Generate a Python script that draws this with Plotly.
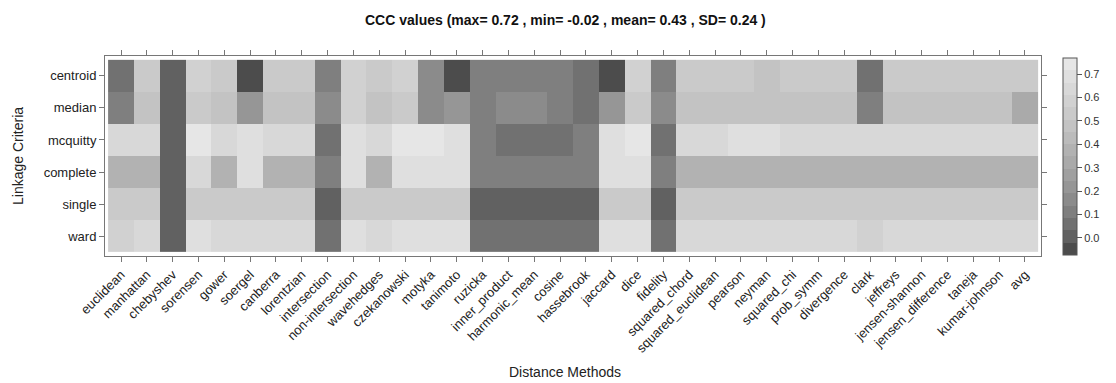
import plotly.graph_objects as go

methods = ["euclidean", "manhattan", "chebyshev", "sorensen", "gower", "soergel",
           "canberra", "lorentzian", "intersection", "non-intersection", "wavehedges",
           "czekanowski", "motyka", "tanimoto", "ruzicka", "inner_product",
           "harmonic_mean", "cosine", "hassebrook", "jaccard", "dice", "fidelity",
           "squared_chord", "squared_euclidean", "pearson", "neyman", "squared_chi",
           "prob_symm", "divergence", "clark", "jeffreys", "jensen-shannon",
           "jensen_difference", "taneja", "kumar-johnson", "avg"]

linkage = ["centroid", "median", "mcquitty", "complete", "single", "ward"]

centroid = [0.06, 0.54, 0.01, 0.59, 0.54, -0.02, 0.54, 0.54, 0.11, 0.59, 0.54, 0.59,
            0.17, -0.02, 0.11, 0.11, 0.11, 0.11, 0.06, -0.02, 0.59, 0.11,
            0.54, 0.54, 0.54, 0.48, 0.54, 0.54, 0.54, 0.06, 0.54, 0.54, 0.54, 0.54, 0.54, 0.54]
median = [0.11, 0.48, 0.01, 0.54, 0.48, 0.21, 0.48, 0.48, 0.17, 0.59, 0.48, 0.54,
          0.17, 0.21, 0.11, 0.17, 0.17, 0.11, 0.06, 0.21, 0.54, 0.17,
          0.48, 0.48, 0.48, 0.48, 0.48, 0.48, 0.48, 0.11, 0.48, 0.48, 0.48, 0.48, 0.48, 0.32]
mcquitty = [0.64, 0.64, 0.01, 0.72, 0.64, 0.69, 0.64, 0.64, 0.06, 0.69, 0.64, 0.72,
            0.72, 0.69, 0.11, 0.06, 0.06, 0.06, 0.11, 0.69, 0.72, 0.06,
            0.64, 0.64, 0.69, 0.69, 0.64, 0.64, 0.64, 0.64, 0.64, 0.64, 0.64, 0.64, 0.64, 0.64]
complete = [0.38, 0.38, 0.01, 0.64, 0.38, 0.69, 0.38, 0.38, 0.11, 0.69, 0.38, 0.69,
            0.69, 0.69, 0.11, 0.11, 0.11, 0.11, 0.11, 0.69, 0.69, 0.11,
            0.38, 0.38, 0.38, 0.38, 0.38, 0.38, 0.38, 0.38, 0.38, 0.38, 0.38, 0.38, 0.38, 0.38]
single = [0.54, 0.54, 0.01, 0.54, 0.54, 0.54, 0.54, 0.54, 0.01, 0.54, 0.54, 0.54,
          0.54, 0.54, 0.01, 0.01, 0.01, 0.01, 0.01, 0.54, 0.54, 0.01,
          0.54, 0.54, 0.54, 0.54, 0.54, 0.54, 0.54, 0.54, 0.54, 0.54, 0.54, 0.54, 0.54, 0.54]
ward = [0.59, 0.64, 0.01, 0.69, 0.64, 0.64, 0.64, 0.64, 0.06, 0.69, 0.64, 0.69,
        0.69, 0.69, 0.06, 0.06, 0.06, 0.06, 0.06, 0.69, 0.69, 0.06,
        0.64, 0.64, 0.64, 0.64, 0.64, 0.64, 0.64, 0.59, 0.64, 0.64, 0.64, 0.64, 0.64, 0.64]

colorbar_ticks = [0.0, 0.1, 0.2, 0.3, 0.4, 0.5, 0.6, 0.7]

z = [centroid, median, mcquitty, complete, single, ward]

flat = [v for row in z for v in row]
zmin_d, zmax_d = min(flat), max(flat)
ext = 0.07 * (zmax_d - zmin_d)
lo, hi = zmin_d - ext, zmax_d + ext

# lattice-like stepped grey palette (gray.colors, 16 levels)
n = 16
g0, g1 = 0.3 ** 2.2, 0.9 ** 2.2
scale = []
for k in range(n):
    lvl = (g0 + k / (n - 1) * (g1 - g0)) ** (1 / 2.2)
    c = round(lvl * 255)
    col = f"rgb({c},{c},{c})"
    scale.append([k / n, col])
    scale.append([(k + 1) / n, col])

font = "Liberation Sans, Arial, sans-serif"

fig = go.Figure(go.Heatmap(
    x=methods, y=linkage, z=z,
    zmin=lo, zmax=hi, colorscale=scale,
    xgap=0, ygap=0,
    colorbar=dict(
        x=1.0235, xanchor="left", xpad=0,
        y=0.5, yanchor="middle", ypad=0,
        thickness=14, lenmode="pixels", len=197,
        outlinewidth=1, outlinecolor="#555",
        ticks="outside", ticklen=5, tickcolor="#555",
        tickvals=colorbar_ticks, tickformat=".1f",
        tickfont=dict(family=font, size=11, color="#333"),
    ),
))

axis_common = dict(
    showline=True, linecolor="#777", linewidth=1, mirror="ticks",
    ticks="outside", ticklen=5, tickcolor="#777", showgrid=False, zeroline=False,
    tickfont=dict(family=font, size=13, color="#222"),
)

fig.update_xaxes(type="category", range=[-0.62, len(methods) - 0.38], tickangle=-45,
                 **axis_common)
fig.update_yaxes(type="category", range=[len(linkage) - 0.38, -0.62], **axis_common)

fig.update_layout(
    width=1116, height=383,
    margin=dict(l=105, r=75, t=56, b=127),
    paper_bgcolor="white", plot_bgcolor="white",
    font=dict(family=font, color="#222"),
    annotations=[
        dict(text="<b>CCC values (max= 0.72 , min= -0.02 , mean= 0.43 , SD= 0.24 )</b>",
             xref="paper", yref="paper", x=(565 - 105) / 936, y=1 + (56 - 20) / 200,
             xanchor="center", yanchor="middle", showarrow=False,
             font=dict(family=font, size=14, color="#111")),
        dict(text="Distance Methods", xref="paper", yref="paper",
             x=(565 - 105) / 936, y=-(372 - 256) / 200, xanchor="center", yanchor="middle",
             showarrow=False, font=dict(family=font, size=14, color="#222")),
        dict(text="Linkage Criteria", xref="paper", yref="paper",
             x=(18 - 105) / 936, y=0.5, xanchor="center", yanchor="middle", textangle=-90,
             showarrow=False, font=dict(family=font, size=14, color="#222")),
    ],
)

fig.write_html("out.html")
